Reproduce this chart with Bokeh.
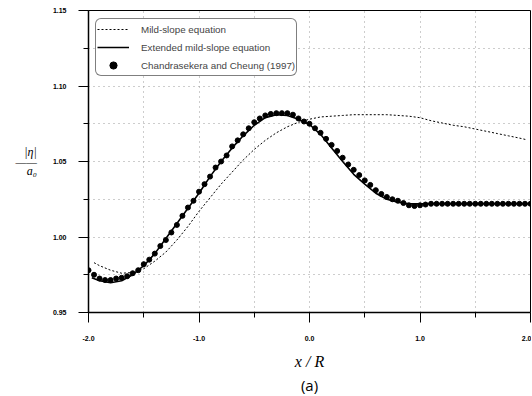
from bokeh.plotting import figure
from bokeh.models import (FixedTicker, Legend, LegendItem, Title,
                          NumeralTickFormatter, Range1d)
from bokeh.embed import file_html
from bokeh.resources import INLINE

# ---- data ----
mild_x = [-1.95, -1.9, -1.8, -1.7, -1.6, -1.5, -1.4, -1.3, -1.2, -1.1, -1.0,
          -0.9, -0.8, -0.7, -0.6, -0.5, -0.4, -0.3, -0.2, -0.1, 0.0,
          0.1, 0.2, 0.3, 0.4, 0.5, 0.6, 0.7, 0.8, 0.9, 1.0,
          1.1, 1.2, 1.3, 1.4, 1.5, 1.6, 1.7, 1.8, 1.9, 1.96]
mild_y = [0.983, 0.981, 0.978, 0.976, 0.9765, 0.979, 0.984, 0.990, 0.998, 1.007, 1.017,
          1.026, 1.035, 1.043, 1.051, 1.058, 1.064, 1.069, 1.073, 1.076, 1.078,
          1.0795, 1.080, 1.0805, 1.081, 1.081, 1.081, 1.081, 1.0805, 1.080, 1.079,
          1.077, 1.0755, 1.074, 1.073, 1.0715, 1.070, 1.0685, 1.067, 1.0655, 1.0645]

ext_x = [-1.97, -1.9, -1.8, -1.7, -1.6, -1.5, -1.4, -1.3, -1.2, -1.1, -1.0,
         -0.9, -0.8, -0.7, -0.6, -0.5, -0.4, -0.3, -0.2, -0.1, 0.0,
         0.1, 0.2, 0.3, 0.4, 0.5, 0.6, 0.7, 0.8, 0.9, 1.0, 1.5, 2.0]
ext_y = [0.973, 0.971, 0.9697, 0.971, 0.975, 0.981, 0.989, 0.999, 1.009, 1.019, 1.029,
         1.040, 1.050, 1.059, 1.067, 1.074, 1.079, 1.081, 1.0805, 1.078, 1.0745,
         1.068, 1.059, 1.050, 1.0415, 1.035, 1.029, 1.025, 1.023, 1.022, 1.022, 1.022, 1.022]

obs_x = [-2.00, -1.95, -1.90, -1.85, -1.80, -1.75, -1.70, -1.65, -1.60, -1.55,
         -1.50, -1.45, -1.40, -1.35, -1.30, -1.25, -1.20, -1.15, -1.10, -1.05,
         -1.00, -0.95, -0.90, -0.85, -0.80, -0.75, -0.70, -0.65, -0.60, -0.55,
         -0.50, -0.45, -0.40, -0.35, -0.30, -0.25, -0.20, -0.15, -0.10, -0.05,
         0.00, 0.05, 0.10, 0.15, 0.20, 0.25, 0.30, 0.35, 0.40, 0.45,
         0.50, 0.55, 0.60, 0.65, 0.70, 0.75, 0.80, 0.85, 0.90, 0.95,
         1.00, 1.05, 1.10, 1.15, 1.20, 1.25, 1.30, 1.35, 1.40, 1.45,
         1.50, 1.55, 1.60, 1.65, 1.70, 1.75, 1.80, 1.85, 1.90, 1.95, 2.00]
obs_y = [0.978, 0.975, 0.9725, 0.9715, 0.9715, 0.9725, 0.973, 0.974, 0.976, 0.978,
         0.982, 0.985, 0.989, 0.994, 0.998, 1.003, 1.008, 1.014, 1.0195, 1.024,
         1.030, 1.035, 1.040, 1.046, 1.050, 1.054, 1.060, 1.064, 1.068, 1.072,
         1.076, 1.0785, 1.0805, 1.0815, 1.082, 1.082, 1.082, 1.081, 1.0785, 1.0765,
         1.075, 1.072, 1.069, 1.065, 1.061, 1.057, 1.0525, 1.048, 1.0445, 1.041,
         1.0375, 1.0345, 1.031, 1.0285, 1.0265, 1.025, 1.024, 1.0225, 1.021, 1.0205,
         1.021, 1.0215, 1.022, 1.022, 1.022, 1.022, 1.022, 1.022, 1.022, 1.022,
         1.022, 1.022, 1.022, 1.022, 1.022, 1.022, 1.022, 1.022, 1.022, 1.022, 1.022]

legend_labels = ["Mild-slope equation", "Extended mild-slope equation",
                 "Chandrasekera and Cheung (1997)"]

x_ticks = [-2.0, -1.0, 0.0, 1.0, 2.0]
x_minor_ticks = [-1.5, -0.5, 0.5, 1.5]
y_ticks = [0.95, 1.00, 1.05, 1.10, 1.15]
y_minor_ticks = [0.975, 1.025, 1.075, 1.125]

x_start, x_end = -2.0, 2.0
y_start, y_end = 0.95, 1.15

TICK_FONT = "Liberation Sans"
SERIF = "Liberation Serif"

p = figure(width=531, height=394, output_backend="svg", toolbar_location=None,
           x_range=Range1d(x_start, x_end), y_range=Range1d(y_start, y_end),
           min_border_left=88, min_border_right=1, min_border_top=10, min_border_bottom=82)
p.background_fill_color = "white"
p.border_fill_color = "white"
p.outline_line_color = "black"
p.outline_line_width = 1

# axes / ticks
p.xaxis.ticker = FixedTicker(ticks=x_ticks, minor_ticks=x_minor_ticks)
p.yaxis.ticker = FixedTicker(ticks=y_ticks, minor_ticks=y_minor_ticks)
p.xaxis.formatter = NumeralTickFormatter(format="0.0")
p.yaxis.formatter = NumeralTickFormatter(format="0.00")
for ax in (p.xaxis, p.yaxis):
    ax.axis_line_color = "black"
    ax.axis_line_width = 1.5
    ax.major_tick_in = 0
    ax.major_tick_out = 10
    ax.minor_tick_in = 0
    ax.minor_tick_out = 5
    ax.major_tick_line_color = "black"
    ax.minor_tick_line_color = "black"
    ax.major_label_text_font = TICK_FONT
    ax.major_label_text_font_style = "bold"
    ax.major_label_text_font_size = "7px"
    ax.major_label_text_color = "black"
p.xaxis.major_label_standoff = 13
p.yaxis.major_label_standoff = 12

# axis labels
p.xaxis.axis_label = "x / R"
p.xaxis.axis_label_text_font = SERIF
p.xaxis.axis_label_text_font_style = "italic"
p.xaxis.axis_label_text_font_size = "16px"
p.xaxis.axis_label_text_color = "black"
p.xaxis.axis_label_standoff = 9

p.yaxis.axis_label = "|η|\n——\na₀"
p.yaxis.axis_label_orientation = "horizontal"
p.yaxis.axis_label_text_font = SERIF
p.yaxis.axis_label_text_font_style = "italic"
p.yaxis.axis_label_text_font_size = "12px"
p.yaxis.axis_label_text_line_height = 0.65
p.yaxis.axis_label_text_color = "black"
p.yaxis.axis_label_standoff = 13

p.add_layout(Title(text="(a)", align="center", text_font="Open Sans",
                   text_font_size="15px", text_font_style="normal",
                   text_color="black", standoff=0, offset=0), "below")

# grid (dotted, every 0.5 in x and 0.025 in y)
for g in (p.xgrid, p.ygrid):
    g.grid_line_color = "#9a9a9a"
    g.grid_line_dash = "1 4"
    g.grid_line_width = 1
    g.minor_grid_line_color = "#9a9a9a"
    g.minor_grid_line_dash = "1 4"
    g.minor_grid_line_width = 1

# series
r_mild = p.line(mild_x, mild_y, line_color="black", line_width=1, line_dash="2 2")
r_ext = p.line(ext_x, ext_y, line_color="black", line_width=1.6)
r_obs = p.scatter(obs_x, obs_y, size=5, fill_color="black", line_color="black", marker="circle")

legend = Legend(items=[
    LegendItem(label=legend_labels[0], renderers=[r_mild]),
    LegendItem(label=legend_labels[1], renderers=[r_ext]),
    LegendItem(label=legend_labels[2], renderers=[r_obs]),
], location=(7, 236))
legend.margin = 0
legend.padding = 1
legend.spacing = 0
legend.glyph_height = 18
legend.glyph_width = 32
legend.label_standoff = 12
legend.label_text_font = "Liberation Sans"
legend.label_text_font_size = "9.8px"
legend.label_height = 12
legend.border_line_color = "black"
legend.border_line_width = 1
legend.background_fill_color = "white"
legend.background_fill_alpha = 1.0
try:
    legend.border_radius = 6
except Exception:
    pass
p.add_layout(legend, "center")

open("out.html", "w").write(file_html(p, INLINE))
